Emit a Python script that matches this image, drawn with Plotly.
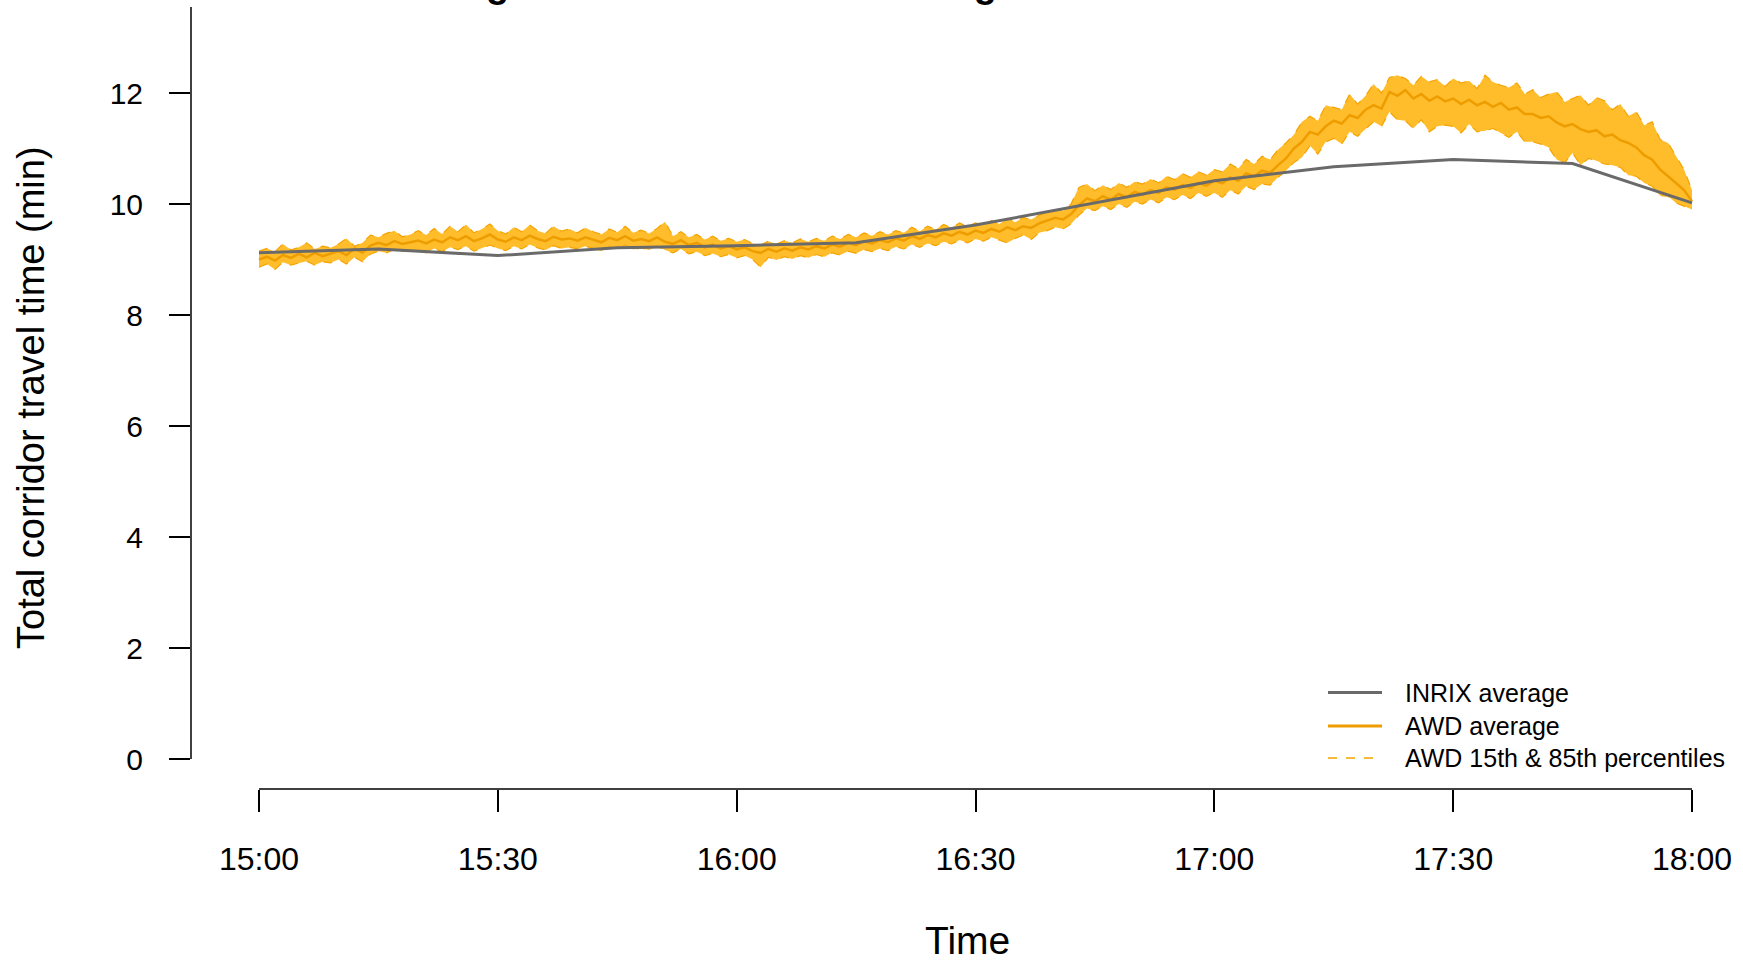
import pandas as pd
import plotly.graph_objects as go

# ---------------- data ----------------
awd_times = pd.date_range("2021-01-01 15:00", "2021-01-01 18:00", freq="1min")

awd_mean = [
    9.00, 9.05, 8.98, 9.08, 9.03, 9.10, 9.04, 9.12, 9.06, 9.10,
    9.15, 9.08, 9.20, 9.12, 9.25, 9.30, 9.26, 9.33, 9.28, 9.31,
    9.34, 9.29, 9.36, 9.31, 9.40, 9.35, 9.42, 9.33, 9.38, 9.45,
    9.36, 9.32, 9.40, 9.35, 9.43, 9.37, 9.33, 9.41, 9.36, 9.38,
    9.34, 9.40, 9.36, 9.31, 9.39, 9.35, 9.42, 9.34, 9.37, 9.33,
    9.40, 9.32, 9.28, 9.35, 9.26, 9.30, 9.22, 9.27, 9.20, 9.24,
    9.18, 9.22, 9.15, 9.12, 9.19, 9.14, 9.20, 9.16, 9.22, 9.18,
    9.24, 9.20, 9.27, 9.23, 9.30, 9.26, 9.33, 9.29, 9.35, 9.31,
    9.38, 9.34, 9.42, 9.37, 9.44, 9.40, 9.47, 9.43, 9.50, 9.45,
    9.52, 9.48, 9.55, 9.50, 9.58, 9.53, 9.60, 9.57, 9.65, 9.70,
    9.75, 9.72, 9.82, 9.98, 10.10, 10.05, 10.14, 10.08, 10.18, 10.12,
    10.22, 10.17, 10.25, 10.20, 10.30, 10.26, 10.34, 10.29, 10.38, 10.33,
    10.42, 10.37, 10.48, 10.42, 10.55, 10.50, 10.60, 10.56, 10.70, 10.82,
    11.00, 11.12, 11.30, 11.25, 11.40, 11.50, 11.45, 11.60, 11.55, 11.70,
    11.78, 11.72, 12.02, 11.95, 12.05, 11.90, 11.98, 11.86, 11.94, 11.85,
    11.90, 11.80, 11.88, 11.78, 11.84, 11.75, 11.82, 11.70, 11.74, 11.62,
    11.62, 11.55, 11.58, 11.47, 11.40, 11.44, 11.35, 11.30, 11.33, 11.22,
    11.25, 11.15, 11.10, 11.02, 10.88, 10.80, 10.62, 10.50, 10.38, 10.25,
    10.05,
]

awd_p85 = [
    9.15, 9.20, 9.14, 9.28, 9.17, 9.22, 9.30, 9.19, 9.24, 9.21,
    9.28, 9.38, 9.24, 9.30, 9.44, 9.40, 9.47, 9.52, 9.41, 9.45,
    9.52, 9.44, 9.56, 9.46, 9.60, 9.50, 9.63, 9.48, 9.55, 9.64,
    9.52, 9.46, 9.58, 9.50, 9.62, 9.52, 9.47, 9.60, 9.51, 9.55,
    9.48, 9.57, 9.50, 9.45, 9.55, 9.49, 9.60, 9.48, 9.53, 9.47,
    9.56, 9.68, 9.42, 9.50, 9.40, 9.45, 9.36, 9.42, 9.34, 9.38,
    9.32, 9.36, 9.29, 9.26, 9.33, 9.28, 9.34, 9.30, 9.37, 9.32,
    9.38, 9.34, 9.42, 9.37, 9.45, 9.40, 9.48, 9.43, 9.50, 9.45,
    9.52, 9.48, 9.58, 9.51, 9.60, 9.54, 9.63, 9.57, 9.66, 9.59,
    9.66, 9.62, 9.70, 9.64, 9.74, 9.67, 9.76, 9.72, 9.80, 9.86,
    9.90, 9.88, 10.00, 10.30, 10.36, 10.24, 10.34, 10.26, 10.38, 10.30,
    10.40, 10.36, 10.45, 10.38, 10.50, 10.44, 10.55, 10.48, 10.58, 10.52,
    10.62, 10.58, 10.72, 10.64, 10.80, 10.72, 10.86, 10.80, 10.98, 11.10,
    11.25, 11.48, 11.58, 11.50, 11.78, 11.74, 11.70, 11.98, 11.80, 11.95,
    12.16, 12.00, 12.28, 12.32, 12.26, 12.14, 12.30, 12.20, 12.24, 12.12,
    12.26, 12.18, 12.22, 12.08, 12.32, 12.20, 12.14, 12.10, 12.18, 11.98,
    12.06, 11.92, 11.98, 12.02, 11.84, 11.90, 11.96, 11.78, 11.92, 11.86,
    11.70, 11.80, 11.58, 11.66, 11.42, 11.48, 11.16, 11.10, 10.86, 10.62,
    10.25,
]

awd_p15 = [
    8.86, 8.92, 8.82, 8.95, 8.90, 8.93, 8.97, 8.90, 8.96, 8.94,
    9.00, 8.92, 9.04, 8.96, 9.10, 9.15, 9.12, 9.18, 9.14, 9.17,
    9.17, 9.12, 9.20, 9.14, 9.22, 9.18, 9.24, 9.15, 9.21, 9.26,
    9.20, 9.16, 9.24, 9.19, 9.27, 9.21, 9.17, 9.25, 9.20, 9.22,
    9.19, 9.24, 9.20, 9.15, 9.23, 9.19, 9.26, 9.18, 9.21, 9.17,
    9.24, 9.17, 9.12, 9.19, 9.10, 9.14, 9.07, 9.11, 9.05, 9.09,
    9.03, 9.07, 9.00, 8.86, 9.04, 8.99, 9.05, 9.01, 9.07, 9.03,
    9.09, 9.05, 9.12, 9.08, 9.15, 9.11, 9.18, 9.14, 9.20, 9.16,
    9.23, 9.19, 9.27, 9.22, 9.29, 9.25, 9.32, 9.28, 9.35, 9.30,
    9.37, 9.33, 9.40, 9.35, 9.30, 9.38, 9.44, 9.36, 9.48, 9.52,
    9.58, 9.55, 9.64, 9.80, 9.92, 9.88, 9.96, 9.90, 10.00, 9.94,
    10.04, 10.00, 10.08, 10.02, 10.12, 10.08, 10.16, 10.10, 10.20, 10.14,
    10.20, 10.12, 10.25, 10.18, 10.32, 10.26, 10.36, 10.34, 10.48, 10.60,
    10.75, 10.84, 11.05, 10.90, 11.12, 11.18, 11.08, 11.30, 11.22, 11.35,
    11.48, 11.40, 11.66, 11.52, 11.50, 11.36, 11.52, 11.30, 11.40, 11.42,
    11.40, 11.28, 11.44, 11.30, 11.32, 11.36, 11.28, 11.20, 11.30, 11.12,
    11.12, 11.08, 11.02, 10.80, 10.74, 10.92, 10.70, 10.82, 10.78, 10.72,
    10.70, 10.66, 10.52, 10.50, 10.38, 10.32, 10.15, 10.14, 10.02, 9.96,
    9.90,
]

inrix_times = pd.date_range("2021-01-01 15:00", "2021-01-01 18:00", freq="15min")
inrix_avg = [9.12, 9.19, 9.07, 9.21, 9.25, 9.30, 9.62, 10.02, 10.42, 10.67, 10.80, 10.73, 10.02]

x_tick_vals = pd.date_range("2021-01-01 15:00", "2021-01-01 18:00", freq="30min")
x_tick_text = ["15:00", "15:30", "16:00", "16:30", "17:00", "17:30", "18:00"]
y_tick_vals = [0, 2, 4, 6, 8, 10, 12]

legend_labels = ["INRIX average", "AWD average", "AWD 15th & 85th percentiles"]
title_text = "Change in total travel time through corridor from 15:00 to 18:00"
x_title = "Time"
y_title = "Total corridor travel time (min)"

# ---------------- styling ----------------
FONT = "Liberation Sans, Arial, sans-serif"
BAND = "#FFBD2B"
AWD = "#EE9D00"
AWD_DASH = "#F5A300"
INRIX = "#6A6A6A"

W, H = 1743, 965
ML, MR, MT, MB = 191, 0, 0, 176
PW = W - ML - MR
x0_px, x1_px = 259.0, 1692.0          # pixel of 15:00 and 18:00
px_per_min = (x1_px - x0_px) / 180.0
t_start = awd_times[0] - pd.Timedelta(minutes=(x0_px - ML) / px_per_min)
t_end = awd_times[-1] + pd.Timedelta(minutes=((W - MR) - x1_px) / px_per_min)
plot_h = H - MT - MB
px_per_unit = 55.5
y_low = -(plot_h - 759) / px_per_unit
y_high = y_low + plot_h / px_per_unit


def px_x(px):
    return (px - ML) / PW


def px_y(py):
    return (plot_h - (py - MT)) / plot_h


fig = go.Figure()

# filled percentile band
fig.add_trace(go.Scatter(x=awd_times, y=awd_p15, mode="lines", line=dict(width=0),
                         showlegend=False, hoverinfo="skip"))
fig.add_trace(go.Scatter(x=awd_times, y=awd_p85, mode="lines", line=dict(width=0),
                         fill="tonexty", fillcolor=BAND, showlegend=False, hoverinfo="skip"))
# dashed percentile lines
fig.add_trace(go.Scatter(x=awd_times, y=awd_p15, mode="lines",
                         line=dict(color=AWD_DASH, width=1.2, dash="dash"),
                         name=legend_labels[2], showlegend=False))
fig.add_trace(go.Scatter(x=awd_times, y=awd_p85, mode="lines",
                         line=dict(color=AWD_DASH, width=1.2, dash="dash"),
                         name=legend_labels[2], showlegend=False))
# AWD average
fig.add_trace(go.Scatter(x=awd_times, y=awd_mean, mode="lines",
                         line=dict(color=AWD, width=2.5), name=legend_labels[1], showlegend=False))
# INRIX average
fig.add_trace(go.Scatter(x=inrix_times, y=inrix_avg, mode="lines",
                         line=dict(color=INRIX, width=3), name=legend_labels[0], showlegend=False))

# R-style detached axis lines
fig.add_shape(type="line", xref="x", yref="paper", x0=x_tick_vals[0], x1=x_tick_vals[-1],
              y0=0, y1=0, line=dict(color="black", width=1.5))
fig.add_shape(type="line", xref="paper", yref="y", x0=0, x1=0, y0=0, y1=13.55,
              line=dict(color="black", width=1.5))

# R-style legend (bottom right, no box)
leg_rows = [692.5, 726.0, 758.0]
leg_styles = [dict(color=INRIX, width=3), dict(color=AWD, width=3),
              dict(color=AWD_DASH, width=1.5, dash="dash")]
for label, row, style in zip(legend_labels, leg_rows, leg_styles):
    fig.add_shape(type="line", xref="paper", yref="paper",
                  x0=px_x(1328), x1=px_x(1382), y0=px_y(row), y1=px_y(row), line=style)
    fig.add_annotation(text=label, xref="paper", yref="paper", x=px_x(1403), y=px_y(row),
                       xanchor="left", yanchor="middle", showarrow=False,
                       font=dict(family=FONT, size=25, color="black"))

# (clipped) title
fig.add_annotation(text="<b>" + title_text + "</b>", xref="paper", yref="paper",
                   x=px_x(962), y=1 + 16.5 / plot_h, xanchor="center",
                   yanchor="middle", showarrow=False,
                   font=dict(family=FONT, size=38, color="black"))

# axis titles
fig.add_annotation(text=y_title, xref="paper", yref="paper", x=px_x(31), y=px_y(398),
                   xanchor="center", yanchor="middle", textangle=-90, showarrow=False,
                   font=dict(family=FONT, size=38, color="black"))
fig.add_annotation(text=x_title, xref="paper", yref="paper", x=px_x(967), y=px_y(940),
                   xanchor="center", yanchor="middle", showarrow=False,
                   font=dict(family=FONT, size=39, color="black"))

fig.update_layout(
    width=W, height=H,
    margin=dict(l=ML, r=MR, t=MT, b=MB, pad=0),
    paper_bgcolor="white", plot_bgcolor="white",
    font=dict(family=FONT, color="black"),
    showlegend=False,
    xaxis=dict(type="date", range=[t_start, t_end], showgrid=False, zeroline=False,
               showline=False, ticks="outside", ticklen=22, tickwidth=1.5, tickcolor="black",
               tickvals=list(x_tick_vals), ticktext=x_tick_text,
               tickfont=dict(family=FONT, size=32, color="black"), ticklabelstandoff=20,
               automargin=False, fixedrange=True),
    yaxis=dict(range=[y_low, y_high], showgrid=False, zeroline=False, showline=False,
               ticks="outside", ticklen=21, tickwidth=1.5, tickcolor="black",
               tickvals=y_tick_vals, ticktext=[str(v) for v in y_tick_vals],
               tickfont=dict(family=FONT, size=30, color="black"), ticklabelstandoff=20,
               automargin=False, fixedrange=True),
)

fig.write_html("out.html")
